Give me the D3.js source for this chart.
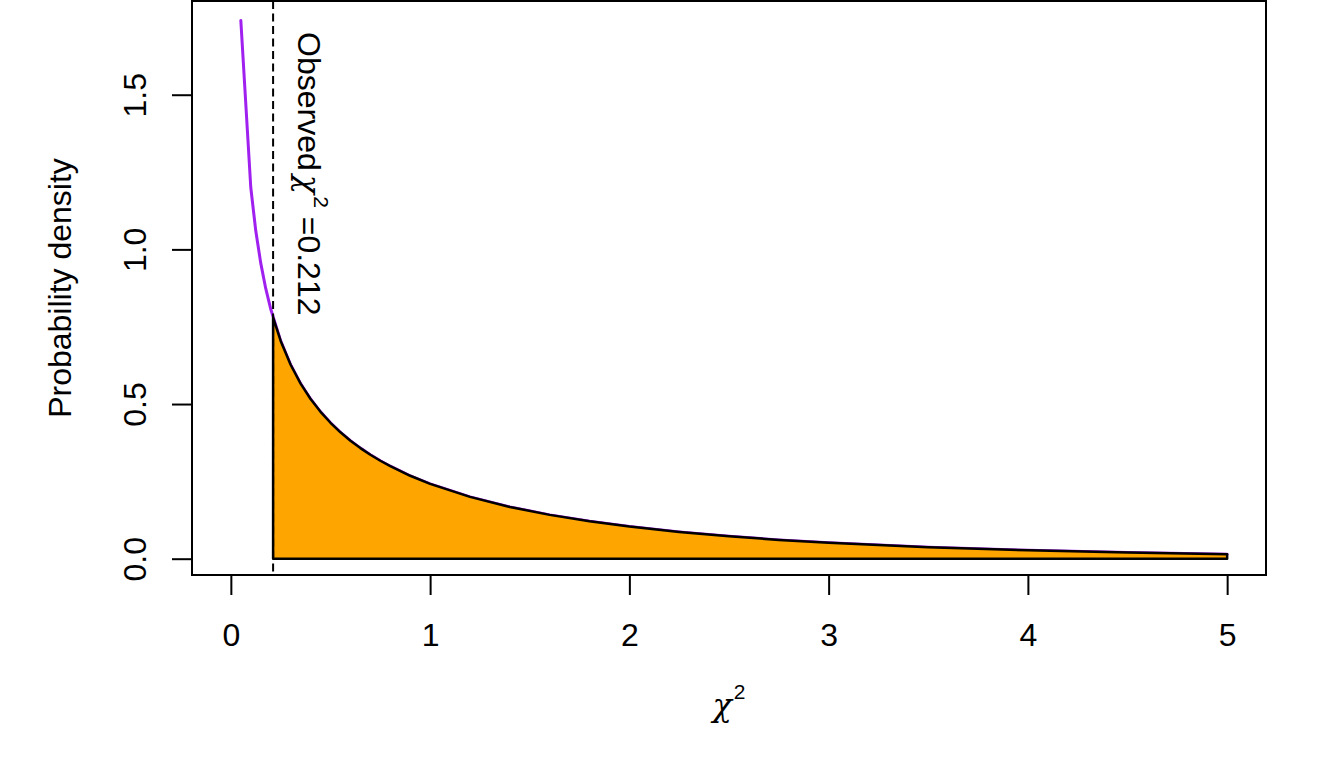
<!DOCTYPE html>
<html><head><meta charset="utf-8">
<script src="https://cdn.jsdelivr.net/npm/d3@7"></script>
<style>body{margin:0;background:#fff}svg{display:block}</style>
</head><body>
<svg id="c" width="1344" height="768"></svg>
<script>
// chi-square (df = 1) density
const chiX = [0.05,0.10,0.125,0.15,0.175,0.20,0.25,0.30,0.35,0.40,0.45,0.50,0.55,0.60,0.65,0.70,0.75,0.80,0.90,1.00,1.20,1.40,1.60,1.80,2.00,2.25,2.50,2.75,3.00,3.50,4.00,4.50,5.00];
const chiY = [1.7401,1.2000,1.0600,0.9556,0.8738,0.8072,0.7041,0.6269,0.5661,0.5164,0.4749,0.4394,0.4086,0.3815,0.3575,0.3360,0.3166,0.2990,0.2681,0.2420,0.1999,0.1674,0.1417,0.1209,0.1038,0.0864,0.0723,0.0608,0.0514,0.0371,0.0270,0.0198,0.0146];
const observedX = 0.212;
const observedY = 0.7793;
const xTicks = [0,1,2,3,4,5];
const yTicks = [0.0,0.5,1.0,1.5];
const yTickLabels = ["0.0","0.5","1.0","1.5"];
const xDomain = [-0.195, 5.195];
const yDomain = [-0.0527, 1.803];

const svg = d3.select("#c");
const FONT = "'Liberation Sans', Arial, sans-serif";
const x = d3.scaleLinear().domain(xDomain).range([192, 1266]);
const y = d3.scaleLinear().domain(yDomain).range([575, 1]);

const pts = chiX.map((v,i)=>({x:v,y:chiY[i]}));
const line = d3.line().x(d=>x(d.x)).y(d=>y(d.y));

// purple curve
svg.append("path").datum(pts).attr("d", line)
  .attr("fill","none").attr("stroke","#A020F0").attr("stroke-width",3)
  .attr("stroke-linejoin","round").attr("stroke-linecap","round");

// shaded tail polygon
const poly = [{x:observedX,y:0},{x:observedX,y:observedY}]
  .concat(pts.filter(d=>d.x>observedX))
  .concat([{x:chiX[chiX.length-1],y:0}]);
svg.append("path").datum(poly).attr("d", line(poly)+"Z")
  .attr("fill","#FFA500").attr("stroke","#000").attr("stroke-width",2.5)
  .attr("stroke-linejoin","round");

// dashed observed line
svg.append("line")
  .attr("x1",x(observedX)).attr("x2",x(observedX))
  .attr("y1",y(yDomain[1])).attr("y2",y(yDomain[0]))
  .attr("stroke","#000").attr("stroke-width",2).attr("stroke-dasharray","8,4.5");

// box
svg.append("rect")
  .attr("x",x(xDomain[0])).attr("y",y(yDomain[1]))
  .attr("width",x(xDomain[1])-x(xDomain[0])).attr("height",y(yDomain[0])-y(yDomain[1]))
  .attr("fill","none").attr("stroke","#000").attr("stroke-width",2);

// x axis
const gx = svg.append("g").attr("transform",`translate(0,${y(yDomain[0])})`)
  .call(d3.axisBottom(x).tickValues(xTicks).tickFormat(d3.format("d")).tickSize(20).tickSizeOuter(0));
gx.select(".domain").remove();
gx.selectAll("line").attr("stroke","#000").attr("stroke-width",2);
gx.selectAll("text").attr("y",71).attr("dy",null)
  .attr("font-family",FONT).attr("font-size",32).attr("fill","#000");

// y axis
const gy = svg.append("g").attr("transform",`translate(${x(xDomain[0])},0)`)
  .call(d3.axisLeft(y).tickValues(yTicks).tickFormat((d,i)=>yTickLabels[i]).tickSize(20).tickSizeOuter(0));
gy.select(".domain").remove();
gy.selectAll("line").attr("stroke","#000").attr("stroke-width",2);
gy.selectAll("text").attr("x",null).attr("dy",null)
  .attr("transform","translate(-46,0) rotate(-90)").attr("text-anchor","middle")
  .attr("font-family",FONT).attr("font-size",32).attr("fill","#000");

// axis titles
const xl = svg.append("text").attr("x",(x(xDomain[0])+x(xDomain[1]))/2).attr("y",716)
  .attr("text-anchor","middle").attr("font-family",FONT).attr("font-size",32).attr("fill","#000");
xl.append("tspan").attr("font-family","'DejaVu Serif', serif").attr("font-style","italic").text("χ");
xl.append("tspan").attr("dx",2).attr("dy",-17).attr("font-size",21).text("2");

svg.append("text").attr("transform",`translate(71,${(y(yDomain[0])+y(yDomain[1]))/2}) rotate(-90)`)
  .attr("text-anchor","middle").attr("font-family",FONT).attr("font-size",32).attr("fill","#000")
  .text("Probability density");

// annotation
const ann = svg.append("text").attr("transform",`translate(298,32) rotate(90)`)
  .attr("font-family",FONT).attr("font-size",32).attr("fill","#000");
ann.append("tspan").text("Observed");
ann.append("tspan").attr("dx",4).attr("font-family","'DejaVu Serif', serif").attr("font-style","italic").text("χ");
ann.append("tspan").attr("dx",2).attr("dy",-16).attr("font-size",21).text("2");
ann.append("tspan").attr("dy",16).text(" =" + observedX.toFixed(3));
</script>
</body></html>
